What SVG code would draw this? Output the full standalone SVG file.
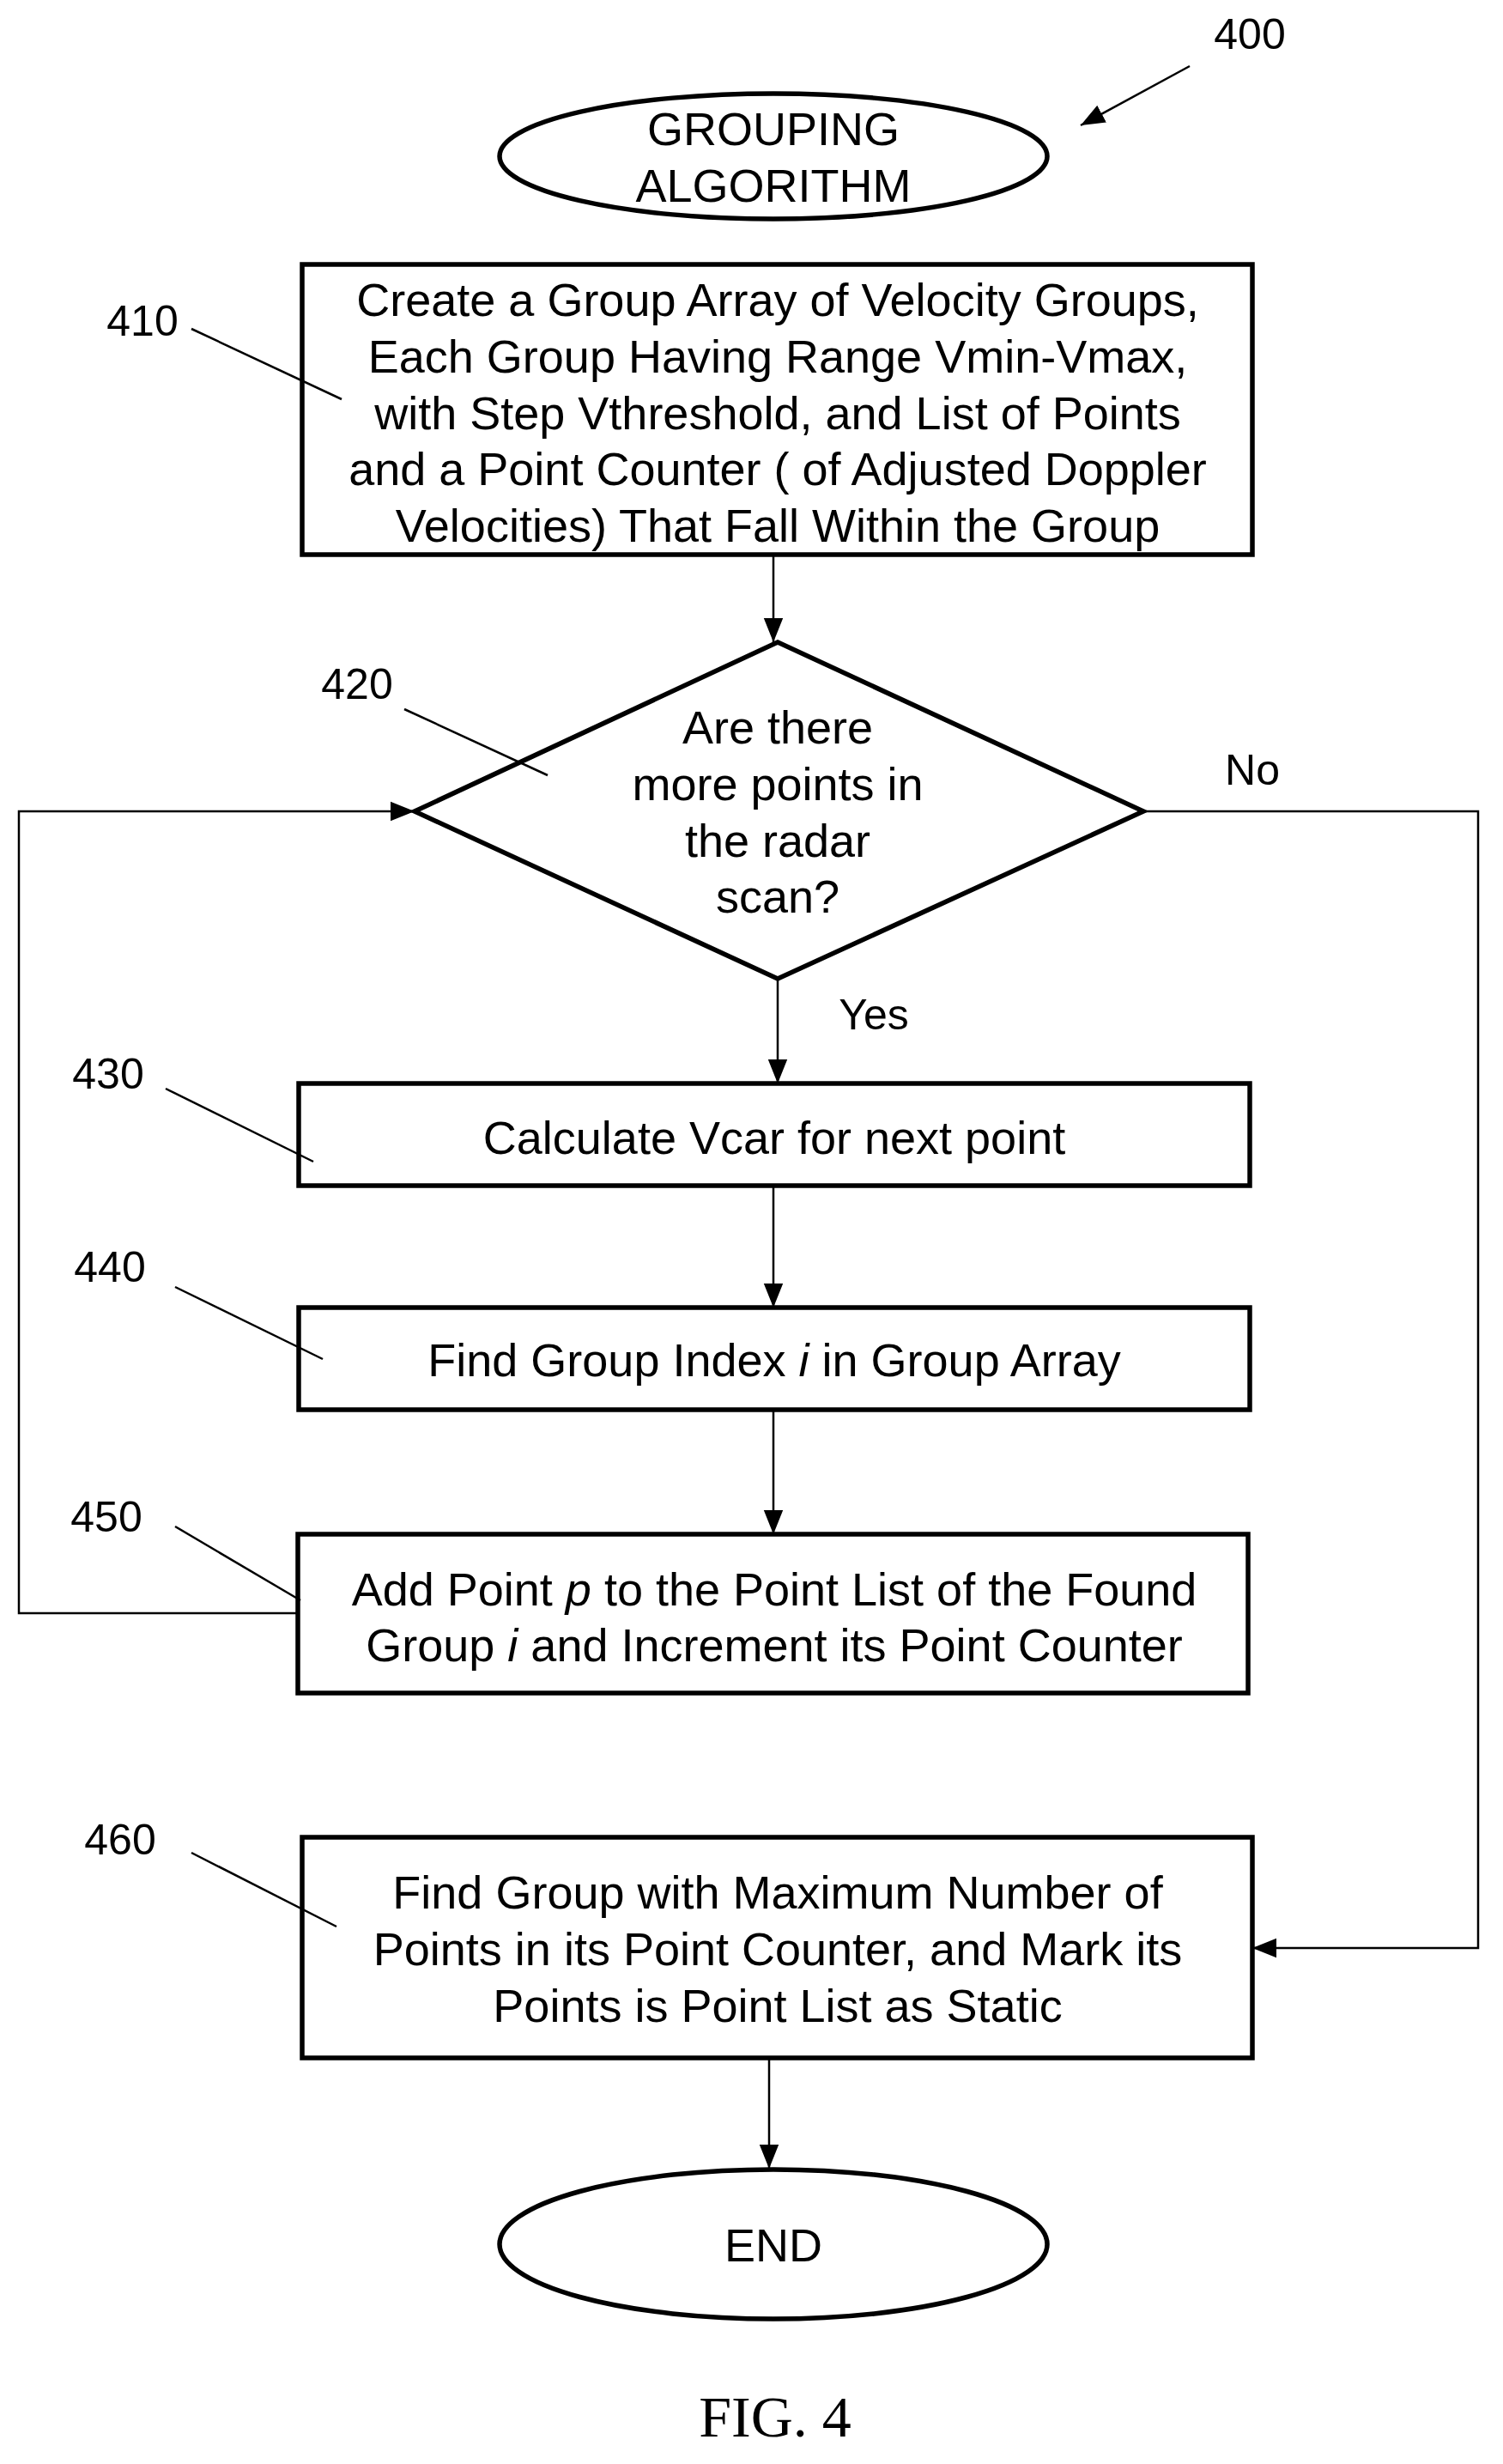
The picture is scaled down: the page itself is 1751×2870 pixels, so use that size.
<svg xmlns="http://www.w3.org/2000/svg" width="1751" height="2870" viewBox="0 0 1751 2870">
<style>
.s{fill:none;stroke:#000;stroke-width:5.5}
.l{fill:none;stroke:#000;stroke-width:2.5}
.t{font-family:"Liberation Sans",Arial,sans-serif;font-size:54px;text-anchor:middle;fill:#000}
.n{font-family:"Liberation Sans",Arial,sans-serif;font-size:50px;text-anchor:middle;fill:#000}
</style>
<defs>
<marker id="b" viewBox="0 0 10 10" refX="10" refY="5" markerWidth="28" markerHeight="28" markerUnits="userSpaceOnUse" orient="auto"><path d="M0,1L10,5L0,9z"/></marker></defs>
<rect width="1751" height="2870" fill="#fff"/>
<g id="connectors">
<line class="l" x1="1386" y1="77" x2="1259" y2="146" marker-end="url(#b)"/>
<line class="l" x1="901" y1="646" x2="901" y2="748" marker-end="url(#b)"/>
<line class="l" x1="906" y1="1140" x2="906" y2="1262" marker-end="url(#b)"/>
<line class="l" x1="901" y1="1381" x2="901" y2="1523" marker-end="url(#b)"/>
<line class="l" x1="901" y1="1642" x2="901" y2="1787" marker-end="url(#b)"/>
<line class="l" x1="896" y1="2397" x2="896" y2="2526" marker-end="url(#b)"/>
<polyline class="l" points="347,1879 22,1879 22,945 483,945" marker-end="url(#b)"/>
<polyline class="l" points="1332,945 1722,945 1722,2269 1459,2269" marker-end="url(#b)"/>
<text class="n" x="1459" y="914">No</text>
<text class="n" x="1018" y="1199">Yes</text>
<line class="l" x1="223" y1="383" x2="398" y2="465"/>
<line class="l" x1="471" y1="826" x2="638" y2="903"/>
<line class="l" x1="193" y1="1268" x2="365" y2="1353"/>
<line class="l" x1="204" y1="1499" x2="376" y2="1583"/>
<line class="l" x1="204" y1="1778" x2="350" y2="1864"/>
<line class="l" x1="223" y1="2158" x2="392" y2="2244"/>
</g>
<text class="n" x="1456" y="57">400</text>
<g id="start"><ellipse class="s" cx="901" cy="182" rx="319" ry="73"/>
<text class="t" x="901" y="169">GROUPING</text><text class="t" x="901" y="235">ALGORITHM</text></g>
<g id="n410"><rect class="s" x="352" y="308" width="1107" height="338"/>
<text class="n" x="166" y="391">410</text>
<text class="t" x="906" y="368">Create a Group Array of Velocity Groups,</text>
<text class="t" x="906" y="434">Each Group Having Range Vmin-Vmax,</text>
<text class="t" x="906" y="500">with Step Vthreshold, and List of Points</text>
<text class="t" x="906" y="565">and a Point Counter ( of Adjusted Doppler</text>
<text class="t" x="906" y="631">Velocities) That Fall Within the Group</text></g>
<g id="n420"><polygon class="s" points="906,748 1332,945 906,1140 483,945"/>
<text class="n" x="416" y="814">420</text>
<text class="t" x="906" y="866">Are there</text>
<text class="t" x="906" y="932">more points in</text>
<text class="t" x="906" y="998">the radar</text>
<text class="t" x="906" y="1063">scan?</text></g>
<g id="n430"><rect class="s" x="348" y="1262" width="1108" height="119"/>
<text class="n" x="126" y="1268">430</text>
<text class="t" x="902" y="1344">Calculate Vcar for next point</text></g>
<g id="n440"><rect class="s" x="348" y="1523" width="1108" height="119"/>
<text class="n" x="128" y="1493">440</text>
<text class="t" x="902" y="1603">Find Group Index <tspan font-style="italic">i</tspan> in Group Array</text></g>
<g id="n450"><rect class="s" x="347" y="1787" width="1107" height="185"/>
<text class="n" x="124" y="1784">450</text>
<text class="t" x="902" y="1870">Add Point <tspan font-style="italic">p</tspan> to the Point List of the Found</text>
<text class="t" x="902" y="1935">Group <tspan font-style="italic">i</tspan> and Increment its Point Counter</text></g>
<g id="n460"><rect class="s" x="352" y="2140" width="1107" height="257"/>
<text class="n" x="140" y="2160">460</text>
<text class="t" x="906" y="2223">Find Group with Maximum Number of</text>
<text class="t" x="906" y="2289">Points in its Point Counter, and Mark its</text>
<text class="t" x="906" y="2355">Points is Point List as Static</text></g>
<g id="end"><ellipse class="s" cx="901" cy="2614" rx="319" ry="87"/>
<text class="t" x="901" y="2634">END</text></g>
<text x="903" y="2838" font-family="Liberation Serif,serif" font-size="68" text-anchor="middle">FIG. 4</text>
</svg>
